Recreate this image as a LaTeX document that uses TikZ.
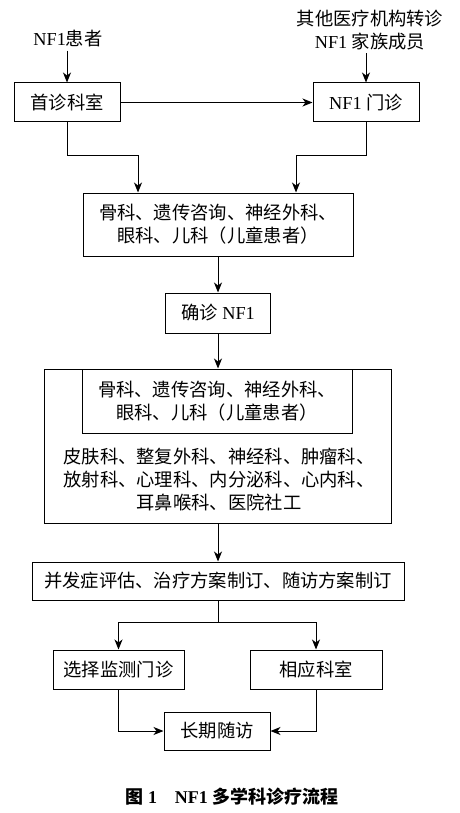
\documentclass[tikz,border=0pt]{standalone}
\usepackage{fontspec}
\setmainfont{Liberation Serif}
\newfontfamily\cjk{Noto Sans CJK SC}
\usetikzlibrary{arrows.meta}
\begin{document}
\begin{tikzpicture}[x=1pt,y=-1pt,
  every node/.style={font=\fontsize{18.3}{23}\selectfont, inner sep=0pt},
  box/.style={draw, line width=1pt, align=center},
  arr/.style={line width=1pt, -{Stealth[length=10pt,width=8pt,inset=3pt]}},
  ln/.style={line width=1pt}]
\useasboundingbox (0,0) rectangle (459,813);
% top
\node (t1) at (68,39) {NF1{\cjk 患者}};
\node[align=center] (t2) at (370,30) {{\cjk 其他医疗机构转诊}\\NF1 {\cjk 家族成员}};
\node[box, minimum width=106pt, minimum height=39pt] (n1) at (67,102.5) {\cjk 首诊科室};
\node[box, minimum width=106pt, minimum height=39pt] (n2) at (366,102.5) {NF1 {\cjk 门诊}};
\node[box, minimum width=270pt, minimum height=63pt] (n3) at (218,224.5) {\cjk 骨科、遗传咨询、神经外科、\\\cjk 眼科、儿科（儿童患者）};
\node[box, minimum width=105pt, minimum height=40pt] (n4) at (218,313) {{\cjk 确诊} NF1};
\node[box, minimum width=347pt, minimum height=154pt] (n5) at (218,446) {};
\node[box, minimum width=270pt, minimum height=64pt] (n5a) at (217,401) {\cjk 骨科、遗传咨询、神经外科、\\\cjk 眼科、儿科（儿童患者）};
\node[align=center] (n5b) at (219,480) {\cjk 皮肤科、整复外科、神经科、肿瘤科、\\\cjk 放射科、心理科、内分泌科、心内科、\\\cjk 耳鼻喉科、医院社工};
\node[box, minimum width=372pt, minimum height=38pt] (n6) at (218,581) {\cjk 并发症评估、治疗方案制订、随访方案制订};
\node[box, minimum width=131pt, minimum height=39pt] (n7) at (118.5,669.5) {\cjk 选择监测门诊};
\node[box, minimum width=132pt, minimum height=39pt] (n8) at (316,669.5) {\cjk 相应科室};
\node[box, minimum width=106pt, minimum height=38pt] (n9) at (217,731) {\cjk 长期随访};
\node[font=\fontsize{18}{20}\selectfont\bfseries] (cap) at (232,797) {{\cjk 图} 1\quad NF1 {\cjk 多学科诊疗流程}};
% connectors
\coordinate (j1) at (138,156);
\coordinate (j2) at (296,156);
\coordinate (j3) at (218,622);
\draw[arr] (t1.south -| n1.north) ++(0,3) -- (n1.north);
\draw[arr] (t2.south -| n2.north) ++(0,3) -- (n2.north);
\draw[arr] (n1.east) -- (n2.west);
\draw[arr] (n1.south) |- (j1) -- (j1 |- n3.north);
\draw[arr] (n2.south) |- (j2) -- (j2 |- n3.north);
\draw[arr] (n3.south) -- (n4.north);
\draw[arr] (n4.south) -- (n5.north);
\draw[arr] (n5.south) -- (n5.south |- n6.north);
\draw[ln] (n6.south) -- (j3);
\draw[arr] (j3) -| (n7.north);
\draw[arr] (j3) -| (n8.north);
\draw[arr] (n7.south) |- (n9.west);
\draw[arr] (n8.south) |- (n9.east);
\end{tikzpicture}
\end{document}
